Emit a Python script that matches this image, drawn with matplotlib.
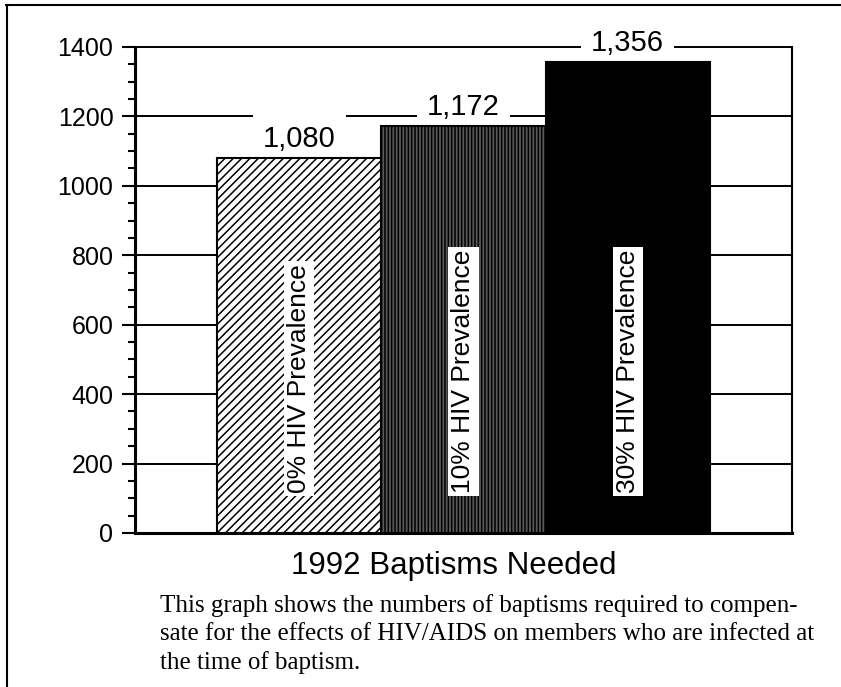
import matplotlib
matplotlib.use("Agg")
import matplotlib.pyplot as plt
from matplotlib.lines import Line2D
from matplotlib.ticker import MultipleLocator

plt.rcParams["font.family"] = ["Liberation Sans", "DejaVu Sans"]
plt.rcParams["hatch.linewidth"] = 1.1

categories = ["0% HIV Prevalence", "10% HIV Prevalence", "30% HIV Prevalence"]
baptisms = [1080, 1172, 1356]
value_labels = ["1,080", "1,172", "1,356"]
xlabel = "1992 Baptisms Needed"
caption_lines = ["This graph shows the numbers of baptisms required to compen-",
                 "sate for the effects of HIV/AIDS on members who are infected at",
                 "the time of baptism."]

faces = ["white", "#5a5a5a", "black"]
hatches = ["////", "|||||", None]

fig = plt.figure(figsize=(8.41, 6.87), dpi=100)
ax = fig.add_axes([0.1605, 0.2242, 0.7812, 0.7074])

for i, (cat, val) in enumerate(zip(categories, baptisms)):
    ax.bar(i, val, width=1.0, color=faces[i], edgecolor="black",
           linewidth=1.5, hatch=hatches[i], zorder=3)
    ax.annotate(value_labels[i], (i, val), xytext=(0, 8), textcoords="offset points",
                ha="center", va="baseline", fontsize=21, zorder=2.5,
                bbox=dict(boxstyle="square,pad=0.35", fc="white", ec="none"))
    ax.text(i, 115, cat, rotation=90, ha="center", va="bottom", fontsize=19,
            zorder=4, bbox=dict(boxstyle="square,pad=0.12", fc="white", ec="none"))

ax.set_xlim(-1, 3)
ax.set_ylim(0, 1400)
ax.set_xticks([])
ax.yaxis.set_major_locator(MultipleLocator(200))
ax.yaxis.set_minor_locator(MultipleLocator(50))
ax.tick_params(axis="y", which="major", length=9.5, width=1.5, pad=6, labelsize=18)
ax.tick_params(axis="y", which="minor", length=5, width=1.5)

ax.set_axisbelow(True)
ax.yaxis.grid(True, which="major", color="black", linewidth=1.4)
for gl in ax.get_ygridlines():
    gl.set_clip_on(False)
    gl.set_zorder(1)

ax.spines["top"].set_visible(False)
ax.spines["left"].set_linewidth(2.2)
ax.spines["bottom"].set_linewidth(2.2)
ax.spines["right"].set_linewidth(1.5)

fig.text(454 / 841, 1 - 574 / 687, xlabel, ha="center", va="baseline", fontsize=22.5)
for k, line in enumerate(caption_lines):
    fig.text(160 / 841, 1 - (612 + 28.5 * k) / 687, line, ha="left", va="baseline",
             fontsize=18, family=["Liberation Serif", "DejaVu Serif"])

# frame around the figure
fig.add_artist(Line2D([6 / 841, 1], [1 - 5 / 687, 1 - 5 / 687], color="black", lw=1.5))
fig.add_artist(Line2D([7 / 841, 7 / 841], [0, 1 - 5 / 687], color="black", lw=1.5))

fig.savefig("out.png", dpi=100)
